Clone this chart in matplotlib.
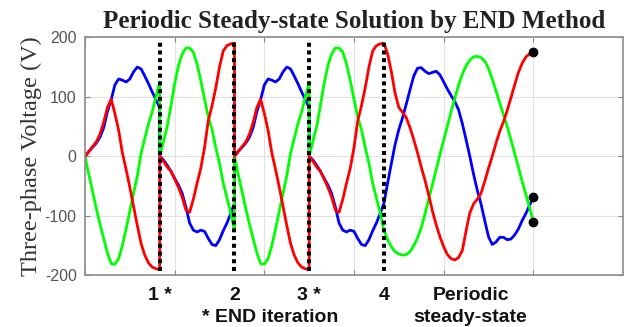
import matplotlib
matplotlib.use('Agg')
import matplotlib.pyplot as plt
import numpy as np

plt.rcParams['axes.unicode_minus'] = False

# sample times (ms): one END iteration = half cycle = 10 ms
t_iter = np.linspace(0, 10, 21)
t_ss = np.linspace(0, 20, 41)

# odd END iterations (1, 3) - every iteration restarts from zero
red_odd = [0, 8, 16, 24, 37, 57, 82, 96, 72, 44, 6, -22, -52, -84, -116, -146, -166, -179, -186, -189, -190]
green_odd = [0, -30, -58, -87, -113, -138, -162, -180, -181, -172, -150, -122, -92, -62, -33, 5, 30, 55, 75, 100, 125]
blue_odd = [0, 8, 15, 22, 32, 48, 75, 95, 120, 130, 128, 125, 130, 142, 150, 147, 135, 122, 108, 95, 82]

# even END iterations (2, 4)
red_even = [0, -8, -18, -25, -38, -52, -68, -90, -94, -72, -45, -20, 15, 60, 85, 115, 150, 177, 186, 189, 190]
green_even = [0, 25, 50, 85, 122, 152, 172, 182, 182, 175, 155, 127, 96, 66, 45, 15, -12, -45, -70, -95, -124]
blue_even = [0, -6, -15, -25, -37, -48, -62, -85, -112, -124, -127, -124, -126, -138, -148, -150, -140, -125, -112, -96, -79]

# periodic steady-state, one full cycle (20 ms)
red_ss = [190, 172, 142, 106, 82, 74, 65, 48, 28, 6, -18, -40, -65, -92, -115, -135, -152, -165, -172, -174,
          -170, -158, -125, -95, -80, -72, -62, -42, -20, 0, 22, 42, 58, 77, 98, 120, 141, 156, 167, 172, 175]
green_ss = [-124, -140, -152, -160, -164, -166, -165, -160, -150, -137, -120, -97, -72, -47, -22, 3, 27, 51, 75, 98,
            120, 138, 152, 162, 167, 168, 166, 160, 148, 130, 110, 90, 70, 50, 28, 5, -18, -42, -64, -86, -110]
blue_ss = [-79, -45, -12, 20, 45, 65, 88, 112, 135, 148, 149, 143, 139, 141, 143, 137, 125, 113, 102, 92,
           78, 55, 28, 0, -30, -57, -80, -108, -135, -148, -144, -136, -136, -140, -139, -132, -122, -108, -96, -82, -69]

iter_ends = [10, 20, 30, 40]
iter_labels = ['1 *', '2', '3 *', '4']

# whole record: 4 iterations then the steady-state cycle
t_all = np.concatenate([t_iter + k * 10 for k in range(4)] + [t_ss + 40])
red_all = np.concatenate([red_odd, red_even, red_odd, red_even, red_ss])
green_all = np.concatenate([green_odd, green_even, green_odd, green_even, green_ss])
blue_all = np.concatenate([blue_odd, blue_even, blue_odd, blue_even, blue_ss])

fig = plt.figure(figsize=(6.44, 3.27), dpi=100)
ax = fig.add_axes([85 / 644, 1 - 275.4 / 327, 538 / 644, 238.1 / 327])

ax.plot(t_all, blue_all, color='#0000ff', lw=2.0)
ax.plot(t_all, green_all, color='#00ff00', lw=2.0)
ax.plot(t_all, red_all, color='#ff0000', lw=2.0)

# END iteration boundaries
for x in iter_ends:
    ax.plot([x, x], [-193, 194], color='k', lw=2.9, ls=(0, (1, 0.92)), dash_capstyle='butt', zorder=5)

# end points of the steady-state cycle
t_end = t_ss[-1] + 40
ax.plot([t_end] * 3, [red_ss[-1], green_ss[-1], blue_ss[-1]], 'o', color='k', ms=6, zorder=6)

ax.set_xlim(0, 72)
ax.set_ylim(-200, 200)
ax.set_xticks(np.arange(0, 72, 12))
ax.set_xticklabels([])
ax.set_yticks([-200, -100, 0, 100, 200])
ax.grid(True, color='#e2e2e2', lw=0.8)
ax.set_axisbelow(True)
ax.tick_params(direction='in', top=True, right=True, length=3.5, width=0.8, color='#888888',
               labelcolor='#555555', labelsize=11.5, pad=6)
for lab in ax.get_yticklabels():
    lab.set_family('Liberation Sans')
for sp in ax.spines.values():
    sp.set_color('#8c8c8c')
    sp.set_linewidth(1.2)

ax.set_title('Periodic Steady-state Solution by END Method', fontsize=18, fontweight='bold',
             family='Liberation Serif', color='#222222', pad=7)
ax.set_ylabel('Three-phase Voltage (V)', family='Liberation Serif', fontsize=17.5, color='#333333', labelpad=2)

# annotations under the axis
tr = ax.get_xaxis_transform()
txt = dict(transform=tr, ha='center', va='baseline', fontsize=14, fontweight='bold',
           family='Liberation Sans', color='#111111')
for x, s in zip(iter_ends, iter_labels):
    ax.text(x, -0.103, s, **txt)
ax.text(51.6, -0.103, 'Periodic', **txt)
ax.text(51.6, -0.196, 'steady-state', **txt)
ax.text(24.8, -0.196, '* END iteration', **txt)

fig.savefig('out.png', dpi=100)
